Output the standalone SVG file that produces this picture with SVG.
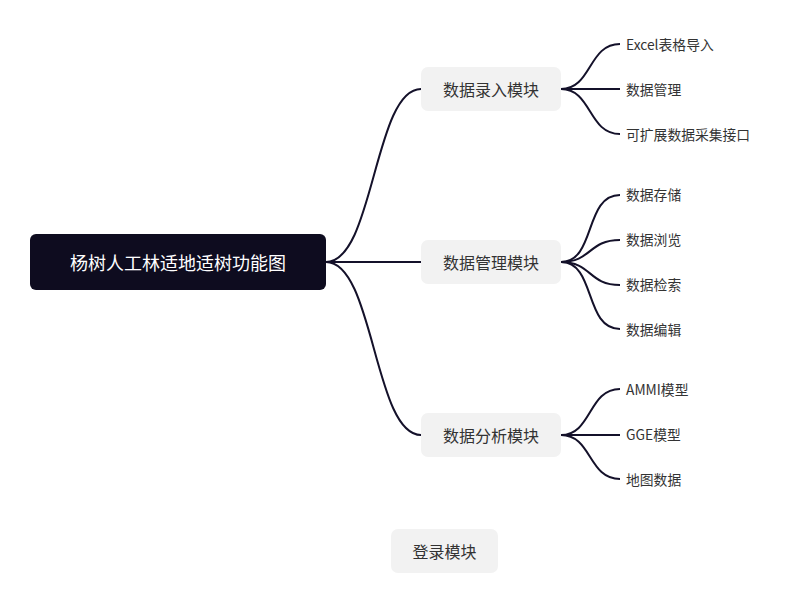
<svg xmlns="http://www.w3.org/2000/svg" width="791" height="603" viewBox="0 0 791 603">
<style>
text{font-family:"Noto Sans CJK SC","Noto Sans",sans-serif;dominant-baseline:central}
.root{fill:#0e0c1f}
.rt{fill:#ffffff;font-size:18px;text-anchor:middle}
.mod{fill:#f2f2f2}
.mt{fill:#333333;font-size:16px;text-anchor:middle}
.lt{fill:#333333;font-size:13.8px}
.c{fill:none;stroke:#14112a;stroke-width:2}
</style>
<rect width="791" height="603" fill="#ffffff"/>
<g id="connectors">
<path class="c" d="M326 262 C374 262 374 89 421 89"/>
<path class="c" d="M326 262 L421 262"/>
<path class="c" d="M326 262 C374 262 374 435 421 435"/>
<path class="c" d="M561 89 C592 89 588 44 620 44"/>
<path class="c" d="M561 89 L620 89"/>
<path class="c" d="M561 89 C592 89 588 134 620 134"/>
<path class="c" d="M561 262 C596 262 584 195 620 195"/>
<path class="c" d="M561 262 C592 262 588 240 620 240"/>
<path class="c" d="M561 262 C592 262 588 285 620 285"/>
<path class="c" d="M561 262 C596 262 584 329 620 329"/>
<path class="c" d="M561 435 C592 435 588 389 620 389"/>
<path class="c" d="M561 435 L620 435"/>
<path class="c" d="M561 435 C592 435 588 479 620 479"/>
</g>
<g id="root"><rect class="root" x="30" y="234" width="296" height="56" rx="6"/><text class="rt" x="178" y="262">杨树人工林适地适树功能图</text></g>
<g id="m1"><rect class="mod" x="421" y="67" width="140" height="44" rx="7"/><text class="mt" x="491" y="89">数据录入模块</text></g>
<g id="m2"><rect class="mod" x="421" y="240" width="140" height="44" rx="7"/><text class="mt" x="491" y="262">数据管理模块</text></g>
<g id="m3"><rect class="mod" x="421" y="413" width="140" height="44" rx="7"/><text class="mt" x="491" y="435">数据分析模块</text></g>
<g id="m4"><rect class="mod" x="391" y="529" width="107" height="44" rx="7"/><text class="mt" x="444.5" y="551">登录模块</text></g>
<g id="l1"><text class="lt" x="626" y="44">Excel表格导入</text></g>
<g id="l2"><text class="lt" x="626" y="89">数据管理</text></g>
<g id="l3"><text class="lt" x="626" y="134">可扩展数据采集接口</text></g>
<g id="l4"><text class="lt" x="626" y="194">数据存储</text></g>
<g id="l5"><text class="lt" x="626" y="239">数据浏览</text></g>
<g id="l6"><text class="lt" x="626" y="284">数据检索</text></g>
<g id="l7"><text class="lt" x="626" y="329">数据编辑</text></g>
<g id="l8"><text class="lt" x="626" y="389">AMMI模型</text></g>
<g id="l9"><text class="lt" x="626" y="434">GGE模型</text></g>
<g id="l10"><text class="lt" x="626" y="479">地图数据</text></g>
</svg>
